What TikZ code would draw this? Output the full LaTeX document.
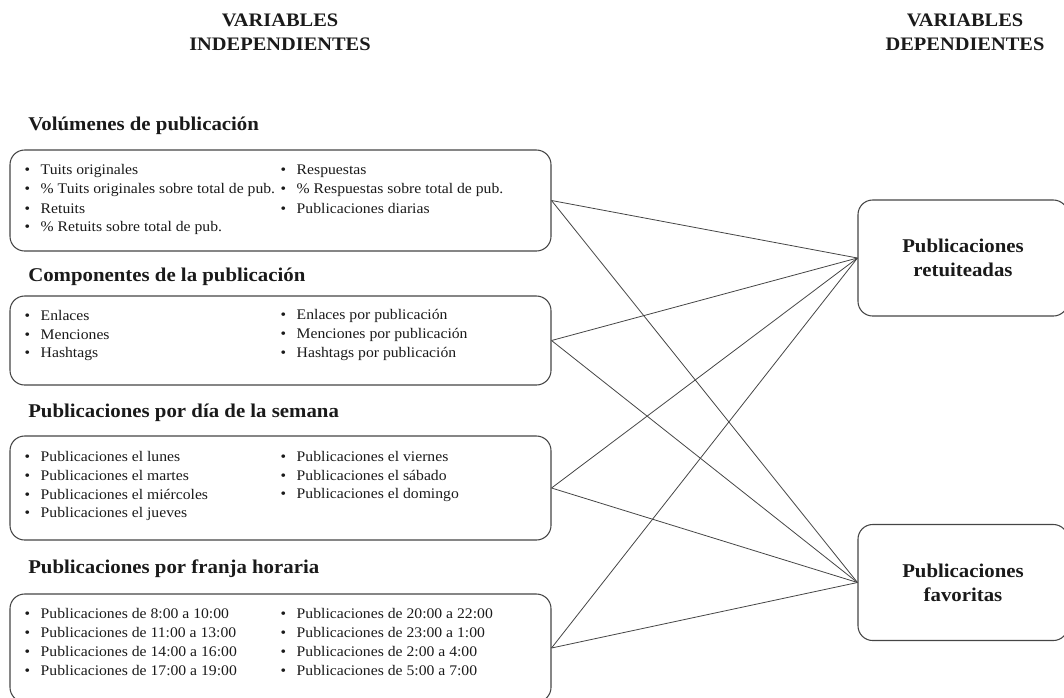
\documentclass[tikz,border=0pt]{standalone}
\usepackage{fontspec}
\setmainfont{Liberation Serif}[FakeStretch=1.07]
\definecolor{edge}{HTML}{454545}
\definecolor{offblack}{HTML}{1a1a1a}
\usetikzlibrary{positioning}
\newcommand{\itm}{\makebox[12pt][l]{\textbullet}}
\tikzset{
  title/.style={align=center, font=\fontsize{14.3}{18}\selectfont\bfseries, text=offblack},
  heading/.style={anchor=west, inner sep=0pt, font=\fontsize{14.6}{16}\selectfont\bfseries, text=offblack},
  leftbox/.style={draw=edge, line width=0.8pt, rounded corners=11pt, minimum width=405.75pt},
  rightbox/.style={draw=edge, line width=0.8pt, rounded corners=11pt, minimum width=157.5pt,
    minimum height=87pt, align=center, font=\fontsize{14.6}{18}\selectfont\bfseries, text=offblack},
  item/.style={inner sep=0pt, font=\fontsize{11}{12}\selectfont, text=offblack},
  conn/.style={edge, line width=0.6pt}
}
\begin{document}
\begin{tikzpicture}[x=0.75pt, y=-0.75pt]
        \useasboundingbox (0,0) rectangle (1064,697);

        % column titles
        \node [title] (ti) at (280,32) {VARIABLES\\INDEPENDIENTES};
        \node [title] (td) at (965,32) {VARIABLES\\DEPENDIENTES};

        % volumenes de publicacion
        \node [heading] (h1) at (28,126) {Volúmenes de publicación};
        \node [leftbox, minimum height=75.75pt] (vol) at (280.5,200.5) {};
        \node [item, right=11.25pt of vol.north west, yshift=-16pt] (vol1) {\itm Tuits originales};
        \node [item, right=11.25pt of vol.north west, yshift=-30.25pt] (vol2) {\itm \% Tuits originales sobre total de pub.};
        \node [item, right=11.25pt of vol.north west, yshift=-44.5pt] (vol3) {\itm Retuits};
        \node [item, right=11.25pt of vol.north west, yshift=-58.75pt] (vol4) {\itm \% Retuits sobre total de pub.};
        \node [item, right=203.25pt of vol.north west, yshift=-16pt] (vol5) {\itm Respuestas};
        \node [item, right=203.25pt of vol.north west, yshift=-30.25pt] (vol6) {\itm \% Respuestas sobre total de pub.};
        \node [item, right=203.25pt of vol.north west, yshift=-44.5pt] (vol7) {\itm Publicaciones diarias};

        % componentes de la publicacion
        \node [heading] (h2) at (28,277) {Componentes de la publicación};
        \node [leftbox, minimum height=66.75pt] (comp) at (280.5,340.5) {};
        \node [item, right=11.25pt of comp.north west, yshift=-15.25pt] (comp1) {\itm Enlaces};
        \node [item, right=11.25pt of comp.north west, yshift=-29.5pt] (comp2) {\itm Menciones};
        \node [item, right=11.25pt of comp.north west, yshift=-43.75pt] (comp3) {\itm Hashtags};
        \node [item, right=203.25pt of comp.north west, yshift=-15.25pt] (comp4) {\itm Enlaces por publicación};
        \node [item, right=203.25pt of comp.north west, yshift=-29.5pt] (comp5) {\itm Menciones por publicación};
        \node [item, right=203.25pt of comp.north west, yshift=-43.75pt] (comp6) {\itm Hashtags por publicación};

        % publicaciones por dia
        \node [heading] (h3) at (28,413) {Publicaciones por día de la semana};
        \node [leftbox, minimum height=78pt] (dia) at (280.5,488) {};
        \node [item, right=11.25pt of dia.north west, yshift=-16pt] (dia1) {\itm Publicaciones el lunes};
        \node [item, right=11.25pt of dia.north west, yshift=-30.25pt] (dia2) {\itm Publicaciones el martes};
        \node [item, right=11.25pt of dia.north west, yshift=-44.5pt] (dia3) {\itm Publicaciones el miércoles};
        \node [item, right=11.25pt of dia.north west, yshift=-58.75pt] (dia4) {\itm Publicaciones el jueves};
        \node [item, right=203.25pt of dia.north west, yshift=-16pt] (dia5) {\itm Publicaciones el viernes};
        \node [item, right=203.25pt of dia.north west, yshift=-30.25pt] (dia6) {\itm Publicaciones el sábado};
        \node [item, right=203.25pt of dia.north west, yshift=-44.5pt] (dia7) {\itm Publicaciones el domingo};

        % publicaciones por franja horaria
        \node [heading] (h4) at (28,569) {Publicaciones por franja horaria};
        \node [leftbox, minimum height=81pt] (fra) at (280.5,648) {};
        \node [item, right=11.25pt of fra.north west, yshift=-15.25pt] (fra1) {\itm Publicaciones de 8:00 a 10:00};
        \node [item, right=11.25pt of fra.north west, yshift=-29.5pt] (fra2) {\itm Publicaciones de 11:00 a 13:00};
        \node [item, right=11.25pt of fra.north west, yshift=-43.75pt] (fra3) {\itm Publicaciones de 14:00 a 16:00};
        \node [item, right=11.25pt of fra.north west, yshift=-58pt] (fra4) {\itm Publicaciones de 17:00 a 19:00};
        \node [item, right=203.25pt of fra.north west, yshift=-15.25pt] (fra5) {\itm Publicaciones de 20:00 a 22:00};
        \node [item, right=203.25pt of fra.north west, yshift=-29.5pt] (fra6) {\itm Publicaciones de 23:00 a 1:00};
        \node [item, right=203.25pt of fra.north west, yshift=-43.75pt] (fra7) {\itm Publicaciones de 2:00 a 4:00};
        \node [item, right=203.25pt of fra.north west, yshift=-58pt] (fra8) {\itm Publicaciones de 5:00 a 7:00};

        % dependent variables
        \node [rightbox] (ret) at (963,258) {Publicaciones\\retuiteadas};
        \node [rightbox] (fav) at (963,582.5) {Publicaciones\\favoritas};

        \draw [conn] (vol.east) -- (ret.west);
        \draw [conn] (vol.east) -- (fav.west);
        \draw [conn] (comp.east) -- (ret.west);
        \draw [conn] (comp.east) -- (fav.west);
        \draw [conn] (dia.east) -- (ret.west);
        \draw [conn] (dia.east) -- (fav.west);
        \draw [conn] (fra.east) -- (ret.west);
        \draw [conn] (fra.east) -- (fav.west);
    \end{tikzpicture}
\end{document}
